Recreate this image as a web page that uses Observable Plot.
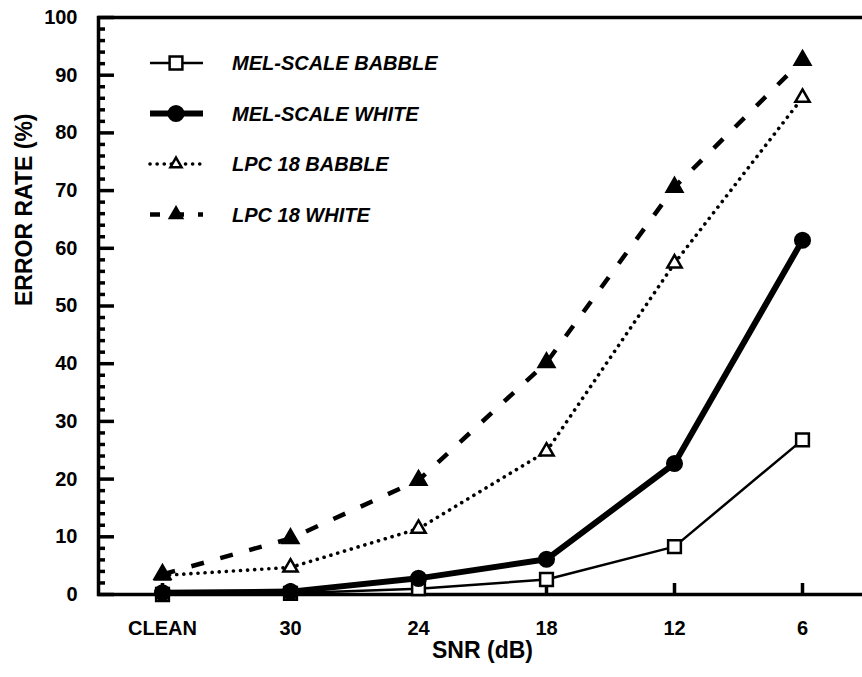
<!DOCTYPE html>
<html><head><meta charset="utf-8">
<script src="https://cdn.jsdelivr.net/npm/d3@7"></script>
<script src="https://cdn.jsdelivr.net/npm/@observablehq/plot@0.6"></script>
<style>
html,body{margin:0;padding:0;background:#fff;overflow:hidden;width:862px;height:677px}
#wrap{position:relative;width:862px;height:677px;overflow:hidden}
#chart svg{max-width:none !important}
#legend{position:absolute;left:140px;top:38px}
</style></head><body><div id="wrap"><div id="chart"></div><div id="legend"></div></div>
<script>
const snr = ["CLEAN", "30", "24", "18", "12", "6"];
const melBabble = [0, 0.2, 1.0, 2.6, 8.3, 26.8];
const melWhite = [0.3, 0.5, 2.8, 6.1, 22.7, 61.4];
const lpcBabble = [3.3, 4.7, 11.4, 24.8, 57.4, 86.1];
const lpcWhite = [3.5, 9.7, 19.8, 40.2, 70.6, 92.6];
const seriesNames = ["MEL-SCALE BABBLE", "MEL-SCALE WHITE", "LPC 18 BABBLE", "LPC 18 WHITE"];
const majorYTicks = d3.range(0, 101, 10);
const minorYTicks = d3.range(0, 101, 2).filter(v => v % 10 !== 0);

const seriesValues = [melBabble, melWhite, lpcBabble, lpcWhite];
const styles = [
  {strokeWidth: 2.5, dash: null, cap: "butt", symbol: "square", fill: "white", r: 7.2},
  {strokeWidth: 6, dash: null, cap: "butt", symbol: "circle", fill: "black", r: 7.3},
  {strokeWidth: 3.6, dash: "0.1 7", cap: "round", symbol: "triangle", fill: "white", r: 5.3},
  {strokeWidth: 4.5, dash: "13 17", cap: "butt", symbol: "triangle", fill: "black", r: 5.8}
];
const series = seriesNames.map((name, i) => ({
  name, style: styles[i],
  data: snr.map((s, j) => ({snr: s, value: seriesValues[i][j]}))
}));

const W = 866, H = 677, ML = 98, MR = 0, MT = 17, MB = 83;
const plotW = W - ML - MR, plotH = H - MT - MB;

const font = "'Liberation Sans', Arial, Helvetica, sans-serif";
const marks = [
  Plot.axisY(majorYTicks, {tickSize: 0, tickPadding: 21, fontSize: 20, fontWeight: "bold"}),
  Plot.axisX(snr, {tickSize: 0, tickPadding: 26, fontSize: 20, fontWeight: "bold"}),
  Plot.tickY(majorYTicks, {y: d => d, insetRight: plotW - 16, stroke: "black", strokeWidth: 3.5}),
  Plot.tickY(minorYTicks, {y: d => d, insetRight: plotW - 7, stroke: "black", strokeWidth: 3.5}),
  Plot.tickX(snr, {x: d => d, insetTop: plotH - 11, stroke: "black", strokeWidth: 3.5}),
  Plot.frame({strokeWidth: 3.5}),
  Plot.text(["ERROR RATE (%)"], {frameAnchor: "left", rotate: -90, dx: -74, fontSize: 23, fontWeight: "bold"}),
  Plot.text(["SNR (dB)"], {frameAnchor: "bottom", dy: 63, fontSize: 23, fontWeight: "bold"})
];
for (const s of series) {
  const st = s.style;
  marks.push(Plot.line(s.data, {x: "snr", y: "value", stroke: "black", strokeWidth: st.strokeWidth,
    strokeDasharray: st.dash, strokeLinecap: st.cap}));
}
for (const s of series) {
  const st = s.style;
  marks.push(Plot.dot(s.data, {x: "snr", y: "value", symbol: () => st.symbol, r: st.r, fill: st.fill,
    stroke: "black", strokeWidth: 2.5}));
}

const chart = Plot.plot({
  width: W, height: H,
  marginLeft: ML, marginRight: MR, marginTop: MT, marginBottom: MB,
  style: {fontFamily: font, fontSize: "20px", fontWeight: "bold", color: "black", background: "white", maxWidth: "none"},
  x: {type: "point", domain: snr, padding: 0.5, label: null},
  y: {domain: [0, 100], label: null},
  symbol: {type: "identity"},
  marks
});
document.getElementById("chart").appendChild(chart);

// Legend overlay
const lg = d3.select("#legend").append("svg").attr("width", 340).attr("height", 200)
  .style("font-family", font);
const symGen = {square: d3.symbolSquare, circle: d3.symbolCircle, triangle: d3.symbolTriangle2};
series.forEach((s, i) => {
  const st = s.style;
  const cy = 25 + i * 50.5;
  const g = lg.append("g").attr("transform", `translate(0,${cy})`);
  g.append("line").attr("x1", 10).attr("x2", 63).attr("y1", 0).attr("y2", 0)
    .attr("stroke", "black").attr("stroke-width", st.strokeWidth)
    .attr("stroke-dasharray", i === 3 ? "10 14" : st.dash).attr("stroke-linecap", st.cap);
  g.append("path").attr("transform", "translate(36,0)")
    .attr("d", d3.symbol(symGen[st.symbol], Math.PI * st.r * st.r)())
    .attr("fill", st.fill).attr("stroke", "black").attr("stroke-width", 2.5);
  g.append("text").attr("x", 92).attr("y", 0).attr("dy", "0.36em")
    .attr("font-size", 20).attr("font-weight", "bold").attr("font-style", "italic")
    .text(s.name);
});
</script></body></html>
